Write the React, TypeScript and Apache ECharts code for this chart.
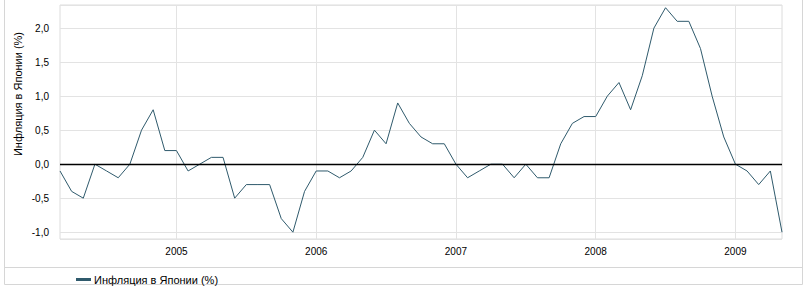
import React, { useEffect, useRef } from "react";
import * as echarts from "echarts";

const seriesName = "Инфляция в Японии (%)";
const months = [
  "2004-03", "2004-04", "2004-05", "2004-06", "2004-07", "2004-08", "2004-09", "2004-10", "2004-11", "2004-12",
  "2005-01", "2005-02", "2005-03", "2005-04", "2005-05", "2005-06", "2005-07", "2005-08", "2005-09", "2005-10", "2005-11", "2005-12",
  "2006-01", "2006-02", "2006-03", "2006-04", "2006-05", "2006-06", "2006-07", "2006-08", "2006-09", "2006-10", "2006-11", "2006-12",
  "2007-01", "2007-02", "2007-03", "2007-04", "2007-05", "2007-06", "2007-07", "2007-08", "2007-09", "2007-10", "2007-11", "2007-12",
  "2008-01", "2008-02", "2008-03", "2008-04", "2008-05", "2008-06", "2008-07", "2008-08", "2008-09", "2008-10", "2008-11", "2008-12",
  "2009-01", "2009-02", "2009-03", "2009-04", "2009-05",
];
const inflation = [
  -0.1, -0.4, -0.5, 0.0, -0.1, -0.2, 0.0, 0.5, 0.8, 0.2,
  0.2, -0.1, 0.0, 0.1, 0.1, -0.5, -0.3, -0.3, -0.3, -0.8, -1.0, -0.4,
  -0.1, -0.1, -0.2, -0.1, 0.1, 0.5, 0.3, 0.9, 0.6, 0.4, 0.3, 0.3,
  0.0, -0.2, -0.1, 0.0, 0.0, -0.2, 0.0, -0.2, -0.2, 0.3, 0.6, 0.7,
  0.7, 1.0, 1.2, 0.8, 1.3, 2.0, 2.3, 2.1, 2.1, 1.7, 1.0, 0.4,
  0.0, -0.1, -0.3, -0.1, -1.0,
];
const yMin = -1.1;
const yMax = 2.34;

const FONT = "Liberation Sans";
const isJan = (v: string) => v.endsWith("-01");

export default function App() {
  const ref = useRef<HTMLDivElement>(null);
  useEffect(() => {
    if (!ref.current) return;
    const chart = echarts.init(ref.current, null, { renderer: "svg" });
    chart.setOption({
      animation: false,
      backgroundColor: "#fff",
      textStyle: { fontFamily: FONT },
      grid: {
        left: 60,
        right: 24,
        top: 5,
        bottom: 51,
        show: true,
        borderColor: "#dcdcdc",
        borderWidth: 1,
        containLabel: false,
      },
      legend: {
        data: [seriesName],
        left: 71,
        top: 269,
        icon: "rect",
        itemWidth: 15,
        itemHeight: 3,
        itemGap: 4,
        textStyle: { fontFamily: FONT, fontSize: 11, color: "#000", padding: [0, 0, 0, -2] },
      },
      xAxis: {
        type: "category",
        data: months,
        boundaryGap: false,
        axisLine: { show: false },
        axisTick: {
          show: true,
          length: 4,
          interval: (_i: number, v: string) => isJan(v),
          lineStyle: { color: "#dcdcdc" },
        },
        axisLabel: {
          interval: (_i: number, v: string) => isJan(v),
          formatter: (v: string) => v.slice(0, 4),
          fontFamily: FONT,
          fontSize: 10,
          color: "#000",
          margin: 7,
        },
        splitLine: {
          show: true,
          interval: (_i: number, v: string) => isJan(v),
          lineStyle: { color: "#e3e3e3" },
        },
      },
      yAxis: {
        type: "value",
        min: yMin,
        max: yMax,
        splitNumber: 5,
        axisLine: { show: false },
        axisTick: { show: false },
        axisLabel: {
          showMinLabel: false,
          showMaxLabel: false,
          formatter: (v: number) => v.toFixed(1).replace(".", ","),
          fontFamily: FONT,
          fontSize: 10,
          color: "#000",
          margin: 11,
        },
        splitLine: { show: true, lineStyle: { color: "#e3e3e3" } },
      },
      graphic: [
        {
          type: "rect",
          shape: { x: 4.5, y: -1, width: 798, height: 285.5 },
          style: { fill: "none", stroke: "#d6d6d6", lineWidth: 1 },
          silent: true,
        },
        {
          type: "line",
          shape: { x1: 4.5, y1: 267.5, x2: 802.5, y2: 267.5 },
          style: { stroke: "#d6d6d6", lineWidth: 1 },
          silent: true,
        },
        {
          type: "text",
          x: 18,
          y: 94,
          rotation: Math.PI / 2,
          style: {
            text: seriesName,
            fontFamily: FONT,
            fontSize: 11,
            fill: "#000",
            align: "center",
            verticalAlign: "middle",
          },
          silent: true,
        },
      ],
      series: [
        {
          name: seriesName,
          type: "line",
          data: inflation,
          symbol: "none",
          color: "#2f5a6c",
          lineStyle: { width: 1, color: "#2f5a6c" },
          markLine: {
            silent: true,
            symbol: "none",
            label: { show: false },
            lineStyle: { color: "#000", width: 1.3, type: "solid" },
            data: [{ yAxis: 0 }],
          },
        },
      ],
    });
    return () => chart.dispose();
  }, []);
  return (
    <div
      ref={ref}
      style={{ position: "fixed", left: 0, top: 0, width: 806, height: 290 }}
    />
  );
}
